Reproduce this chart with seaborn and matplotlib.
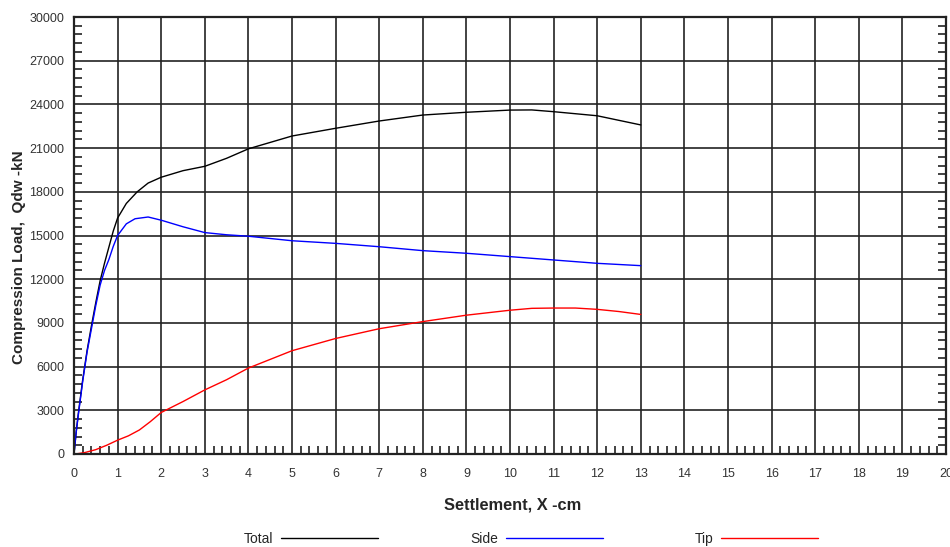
import matplotlib
matplotlib.use("Agg")
import matplotlib.pyplot as plt
from matplotlib.ticker import MultipleLocator, AutoMinorLocator
import pandas as pd
import seaborn as sns

# settlement (cm) and loads (kN)
total_x = [0, 0.05, 0.1, 0.2, 0.3, 0.4, 0.5, 0.6, 0.7, 0.8, 0.9, 1.0, 1.2, 1.45, 1.7,
           2.0, 2.5, 3.0, 3.5, 4.0, 5, 6, 7, 8, 9, 10, 10.5, 11, 12, 13]
total_y = [0, 1500, 2800, 5100, 7100, 8800, 10400, 11900, 13100, 14200, 15300, 16200,
           17200, 18000, 18600, 19000, 19450, 19750, 20300, 20950, 21830, 22360, 22860,
           23270, 23460, 23610, 23620, 23500, 23220, 22590]

side_x = [0, 0.05, 0.1, 0.2, 0.3, 0.4, 0.5, 0.6, 0.7, 0.8, 0.9, 1.0, 1.2, 1.4, 1.7,
          2.0, 2.5, 3.0, 3.5, 4.0, 5, 6, 7, 8, 9, 10, 11, 12, 13]
side_y = [0, 1500, 2700, 5000, 7000, 8600, 10200, 11600, 12600, 13350, 14250, 15000,
          15800, 16150, 16270, 16050, 15600, 15200, 15050, 14950, 14640, 14460, 14230,
          13960, 13780, 13550, 13320, 13090, 12930]

tip_x = [0, 0.1, 0.25, 0.5, 0.75, 1.0, 1.25, 1.5, 1.75, 2.0, 2.5, 3.0, 3.5, 4.0, 5, 6,
         7, 8, 9, 10, 10.5, 11, 11.5, 12, 12.5, 13]
tip_y = [0, 30, 100, 300, 600, 950, 1250, 1650, 2220, 2850, 3600, 4400, 5100, 5900,
         7090, 7930, 8600, 9090, 9530, 9870, 10000, 10020, 10020, 9930, 9780, 9580]

df = pd.concat([
    pd.DataFrame({"x": total_x, "y": total_y, "series": "Total"}),
    pd.DataFrame({"x": side_x, "y": side_y, "series": "Side"}),
    pd.DataFrame({"x": tip_x, "y": tip_y, "series": "Tip"}),
])

sns.set_style("white")
plt.rcParams["font.family"] = ["Liberation Sans", "DejaVu Sans"]

fig = plt.figure(figsize=(9.5, 5.47), dpi=100)
ax = fig.add_axes([74 / 950, 1 - 454 / 547, 872 / 950, 437 / 547])

sns.lineplot(data=df, x="x", y="y", hue="series", hue_order=["Total", "Side", "Tip"],
             palette={"Total": "black", "Side": "#0000ff", "Tip": "#ff0000"},
             estimator=None, sort=False, linewidth=1.0, ax=ax)

handles, labels = ax.get_legend_handles_labels()
ax.get_legend().remove()

ax.set_xlim(0, 20)
ax.set_ylim(0, 30000)
ax.xaxis.set_major_locator(MultipleLocator(1))
ax.yaxis.set_major_locator(MultipleLocator(3000))
ax.xaxis.set_minor_locator(AutoMinorLocator(5))
ax.yaxis.set_minor_locator(AutoMinorLocator(5))
ax.grid(which="major", color="#222222", linewidth=1.2)
ax.set_axisbelow(True)
for s in ax.spines.values():
    s.set_color("#222222")
    s.set_linewidth(1.6)

ax.tick_params(which="major", length=0, labelsize=9, labelcolor="#333333")
ax.tick_params(axis="x", which="major", pad=10)
ax.tick_params(axis="y", which="major", pad=7)
ax.tick_params(which="minor", direction="in", length=6, width=1.2, color="#222222",
               bottom=True, left=True, right=True, top=False)

ax.set_xlabel("Settlement, X -cm", fontsize=11.8, fontweight="bold")
ax.xaxis.set_label_coords((513 - 74) / 872, -(497 - 454) / 437)
ax.set_ylabel("Compression Load,  Qdw -kN", fontsize=11, fontweight="bold")
ax.yaxis.set_label_coords((26 - 74) / 872, (454 - 257) / 437)

fig.legend(handles, labels, loc="center", bbox_to_anchor=(531 / 950, 1 - 539 / 547),
           ncol=3, markerfirst=False, frameon=False, fontsize=10, handlelength=7.0,
           handletextpad=0.55, columnspacing=6.6)

fig.savefig("out.png", dpi=100)
